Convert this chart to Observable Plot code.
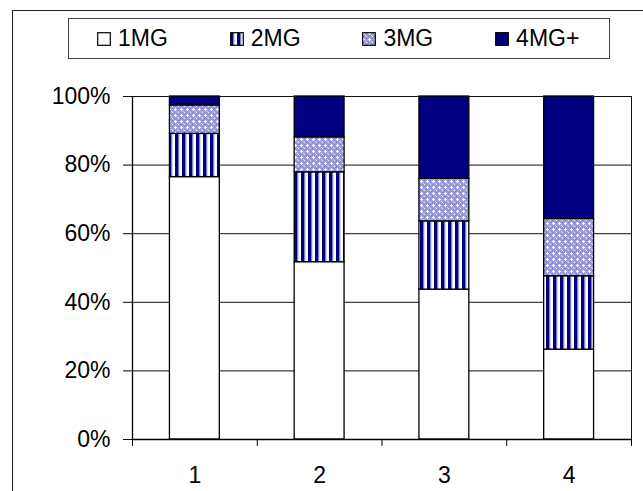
<!DOCTYPE html>
<html><head><meta charset="utf-8">
<script src="https://cdn.jsdelivr.net/npm/d3@7"></script>
<script src="https://cdn.jsdelivr.net/npm/@observablehq/plot@0.6"></script>
<style>
html,body{margin:0;padding:0;background:#fff;overflow:hidden;}
#wrap{position:relative;width:643px;height:491px;overflow:hidden;font-family:"Liberation Sans",Arial,sans-serif;}
#frame{position:absolute;left:12px;top:10px;width:800px;height:800px;border:1.5px solid #222;box-sizing:border-box;}
#chart{position:absolute;left:0;top:0;}
#legend{position:absolute;left:68px;top:18px;width:542px;height:41px;border:1.3px solid #444;box-sizing:border-box;background:#fff;}
.item{position:absolute;top:0;height:100%;display:flex;align-items:center;font-size:23px;color:#000;white-space:nowrap;}
.item svg{margin-right:7px;}
</style>
</head><body>
<div id="wrap">
  <div id="frame"></div>
  <div id="chart"></div>
  <div id="legend"></div>
</div>
<script>
const categories = ["1", "2", "3", "4"];
const series = ["1MG", "2MG", "3MG", "4MG+"];
const values1MG  = [76.5, 51.7, 43.7, 26.2];
const values2MG  = [12.6, 26.2, 19.9, 21.4];
const values3MG  = [8.3, 10.2, 12.4, 16.7];
const values4MG  = [2.6, 11.9, 24.0, 35.7];
const yTicks = [0, 20, 40, 60, 80, 100];
const fills = ["#ffffff", "url(#pStripe)", "url(#pDots)", "#000080"];

const seriesValues = [values1MG, values2MG, values3MG, values4MG];
const data = [];
categories.forEach((c, ci) => {
  let acc = 0;
  series.forEach((s, si) => {
    const v = seriesValues[si][ci];
    data.push({cat: ci + 1, series: s, y1: acc, y2: acc + v});
    acc += v;
  });
});
const catNums = categories.map((c, i) => i + 1);
const bounds = [0.5, ...catNums.map(n => n + 0.5)];

const chart = Plot.plot({
  width: 643, height: 491,
  marginTop: 96, marginBottom: 52, marginLeft: 132, marginRight: 12,
  style: {fontFamily: "'Liberation Sans', Arial, sans-serif", fontSize: "23px", color: "#000", background: "transparent"},
  x: {domain: [0.5, 4.5], axis: null},
  y: {domain: [0, 100], axis: null},
  color: {domain: series, range: fills},
  marks: [
    Plot.ruleY(yTicks.filter(t => t > 0), {stroke: "#111", strokeWidth: 1}),
    Plot.rect(data, {x1: d => d.cat - 0.2, x2: d => d.cat + 0.2, y1: "y1", y2: "y2", fill: "series", stroke: "#000", strokeWidth: 1.3}),
    Plot.ruleX([4.5], {stroke: "#111", strokeWidth: 1}),
    Plot.ruleX([0.5], {stroke: "#000", strokeWidth: 1.3}),
    Plot.ruleY([0], {stroke: "#000", strokeWidth: 1.5}),
    Plot.axisY({ticks: yTicks, tickFormat: d => d + "%", tickSize: 9, tickPadding: 13, fontSize: 23, label: null}),
    Plot.axisX({ticks: bounds, tickFormat: () => "", tickSize: 7, label: null}),
    Plot.axisX({ticks: catNums, tickFormat: d => categories[d - 1], tickSize: 0, tickPadding: 27, fontSize: 23, label: null})
  ]
});

const ns = "http://www.w3.org/2000/svg";
const defs = document.createElementNS(ns, "defs");
defs.innerHTML = `
<pattern id="pStripe" patternUnits="userSpaceOnUse" width="7" height="7">
  <rect width="7" height="7" fill="#ffffff"/>
  <rect x="0" width="3.5" height="7" fill="#000080"/>
  <rect x="3.5" width="0.8" height="7" fill="#8080c0"/>
</pattern>
<pattern id="pDots" patternUnits="userSpaceOnUse" width="6" height="6">
  <rect width="6" height="6" fill="#9c9cd6"/>
  <rect x="1" y="0" width="1" height="3" fill="#ffffff"/>
  <rect x="0" y="1" width="3" height="1" fill="#ffffff"/>
  <rect x="4" y="4" width="1" height="1" fill="#f0f0fa"/>
  <rect x="3" y="3" width="1" height="1" fill="#d0d0ec"/>
  <rect x="4" y="0" width="1" height="1" fill="#7474c0"/>
  <rect x="0" y="4" width="1" height="1" fill="#7474c0"/>
</pattern>`;
chart.insertBefore(defs, chart.firstChild);
document.getElementById("chart").appendChild(chart);

const legend = document.getElementById("legend");
series.forEach((s, i) => {
  const div = document.createElement("div");
  div.className = "item";
  div.style.left = (28 + i * 132.7) + "px";
  div.innerHTML = `<svg width="14" height="14"><rect x="0.7" y="0.7" width="12.6" height="12.6" fill="${fills[i]}" stroke="#000" stroke-width="1.2"/></svg><span>${s}</span>`;
  legend.appendChild(div);
});
</script>
</body></html>
